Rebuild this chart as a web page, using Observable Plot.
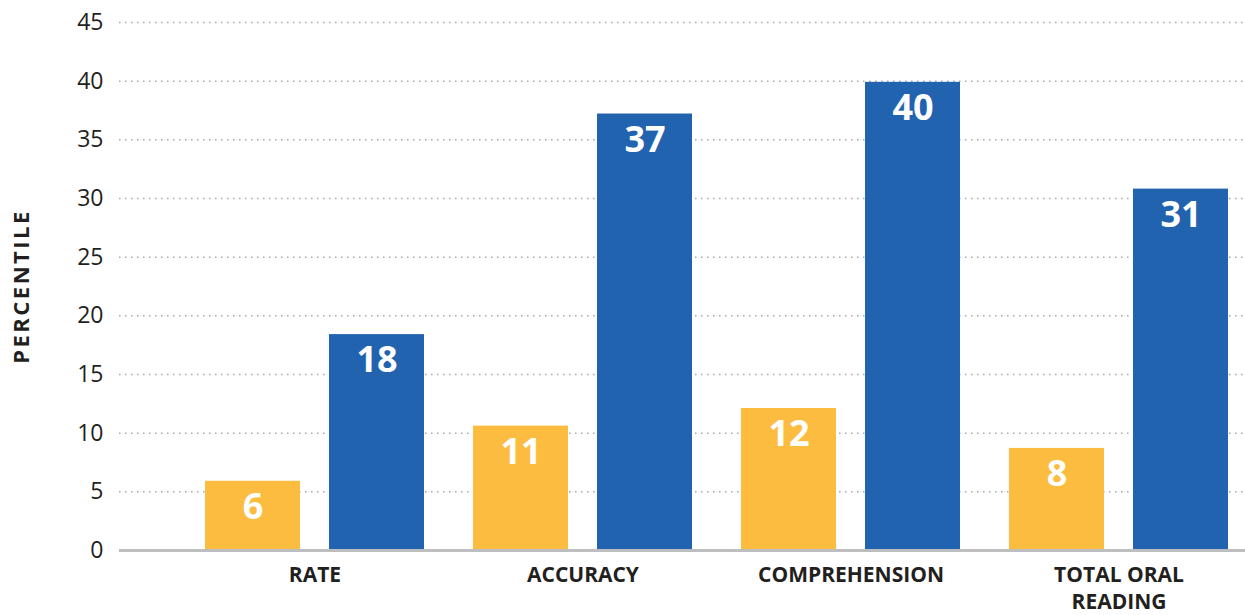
<!DOCTYPE html>
<html>
<head>
<meta charset="utf-8">
<script src="https://cdn.jsdelivr.net/npm/d3@7"></script>
<script src="https://cdn.jsdelivr.net/npm/@observablehq/plot@0.6"></script>
<style>
  html, body { margin: 0; padding: 0; background: #fff; }
  #chart svg [aria-label="y-axis label"] text { font-size: 22px; font-weight: 700; letter-spacing: 2.5px; }
</style>
</head>
<body>
<div id="chart"></div>
<script>
const categories = ["RATE", "ACCURACY", "COMPREHENSION", "TOTAL ORAL\nREADING"];
const seriesA = [5.9, 10.6, 12.1, 8.7];
const seriesB = [18.4, 37.2, 39.9, 30.8];
const labelsA = ["6", "11", "12", "8"];
const labelsB = ["18", "37", "40", "31"];
const yTicks = [0, 5, 10, 15, 20, 25, 30, 35, 40, 45];

const orange = "#FCBC40";
const blue = "#2263B0";
const ink = "#231F20";

const table = categories.map((c, i) => ({
  category: c, a: seriesA[i], b: seriesB[i], la: labelsA[i], lb: labelsB[i]
}));

const chart = Plot.plot({
  width: 1245,
  height: 615,
  marginLeft: 119,
  marginRight: 0,
  marginTop: 22,
  marginBottom: 65,
  style: { fontFamily: "'Open Sans', sans-serif", background: "white", color: ink },
  x: { domain: categories, paddingInner: 0.183, paddingOuter: 0, insetLeft: 86, insetRight: 17 },
  y: { domain: [0, 45] },
  marks: [
    Plot.gridY(yTicks, { stroke: "#a8a8a8", strokeOpacity: 1, strokeWidth: 1.5, strokeDasharray: "1.5,4.5" }),
    Plot.barY(table, { x: "category", y: "a", fill: orange, insetRight: 124 }),
    Plot.barY(table, { x: "category", y: "b", fill: blue, insetLeft: 124 }),
    Plot.ruleY([0], { stroke: "#BCBEC0", strokeWidth: 3 }),
    Plot.text(table, { x: "category", y: "a", text: "la", dx: -62, lineAnchor: "top", dy: 12, fill: "white", fontSize: 36, fontWeight: 700 }),
    Plot.text(table, { x: "category", y: "b", text: "lb", dx: 62, lineAnchor: "top", dy: 12, fill: "white", fontSize: 36, fontWeight: 700 }),
    Plot.axisY(yTicks, { tickSize: 0, tickPadding: 16, fontSize: 23, fill: ink, label: "PERCENTILE", labelArrow: "none", labelAnchor: "center", labelOffset: 106 }),
    Plot.axisX({ tickSize: 0, tickPadding: 12, fontSize: 21, fontWeight: 700, fill: ink, lineHeight: 1.3, label: null })
  ]
});
document.getElementById("chart").appendChild(chart);
</script>
</body>
</html>
